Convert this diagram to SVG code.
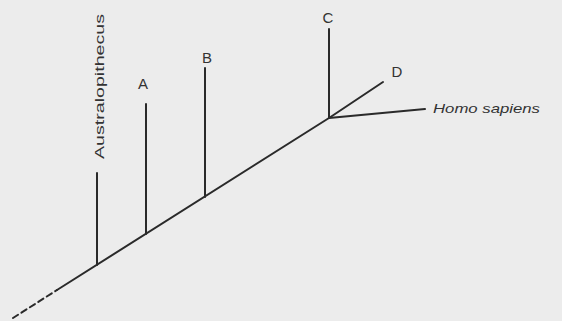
<svg xmlns="http://www.w3.org/2000/svg" width="562" height="321" viewBox="0 0 562 321">
<style>
.ln{stroke:#2a2a2a;stroke-width:2;fill:none;stroke-linecap:round}
.t{font-family:"Liberation Sans",Arial,sans-serif;fill:#333;font-size:13px}
.l{font-size:15px}
</style>
<rect width="562" height="321" fill="#ececec"/>
<g id="connectors">
<path class="ln" d="M13,318 L57,290" stroke-dasharray="6,4"/>
<path class="ln" d="M57,290 L329,118"/>
<path class="ln" d="M97,265 V173"/>
<path class="ln" d="M146,234 V104"/>
<path class="ln" d="M205,197 V68"/>
<path class="ln" d="M329,118 V29"/>
<path class="ln" d="M329,118 L383,82"/>
<path class="ln" d="M329,118 L425,109"/>
</g>
<g id="australopithecus"><text class="t" transform="translate(104,159) rotate(-90)" textLength="145" lengthAdjust="spacingAndGlyphs">Australopithecus</text></g>
<g id="A"><text class="t l" x="143" y="89" text-anchor="middle">A</text></g>
<g id="B"><text class="t l" x="207" y="63" text-anchor="middle">B</text></g>
<g id="C"><text class="t l" x="328" y="23" text-anchor="middle">C</text></g>
<g id="D"><text class="t l" x="397" y="77" text-anchor="middle">D</text></g>
<g id="homo"><text class="t" x="433" y="113" font-style="italic" textLength="107" lengthAdjust="spacingAndGlyphs">Homo sapiens</text></g>
</svg>
